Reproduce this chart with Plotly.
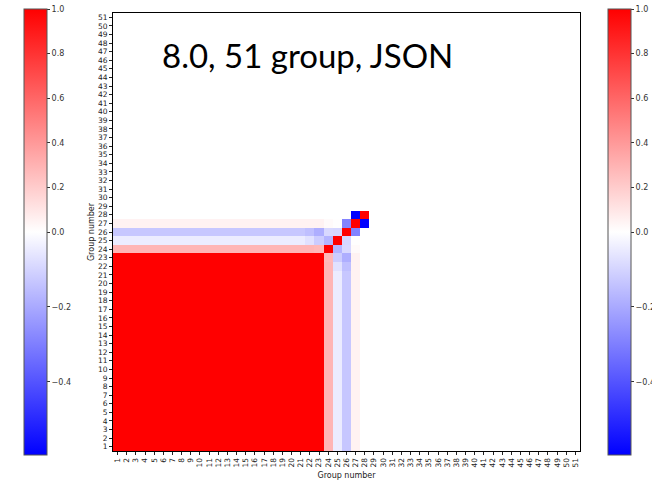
import numpy as np
import plotly.graph_objects as go

# ---- data -------------------------------------------------------------
group_numbers = list(range(1, 52))
group_labels = [str(g) for g in group_numbers]

# groups 1..23 are fully correlated with each other
core_size = 23
core_value = 1.0

# lower-triangle rows (columns 1..row) for groups 24..28
row_24 = [0.29] * 22 + [0.28, 1.0]
row_25 = [-0.045] * 21 + [-0.07, -0.12, -0.175, 1.0]
row_26 = [-0.13] * 21 + [-0.15, -0.19, -0.09, -0.095, 1.0]
row_27 = [0.05] * 23 + [0.02, 0.005, -0.29, 1.0]
row_28 = [0.0] * 26 + [-0.595, 1.0]
tail_rows = {24: row_24, 25: row_25, 26: row_26, 27: row_27, 28: row_28}

vmin, vcenter, vmax = -0.595, 0.0, 1.0
cbar_ticks = [1.0, 0.8, 0.6, 0.4, 0.2, 0.0, -0.2, -0.4]

# ---- build symmetric correlation matrix --------------------------------
n = len(group_numbers)
corr = np.zeros((n, n))
corr[:core_size, :core_size] = core_value
for r, vals in tail_rows.items():
    vals = np.asarray(vals)
    corr[r - 1, :r] = vals
    corr[:r, r - 1] = vals


def two_slope(v):
    """Map values to [0, 1] with the centre value at 0.5."""
    v = np.asarray(v, dtype=float)
    return np.where(v >= vcenter,
                    0.5 + 0.5 * (v - vcenter) / (vmax - vcenter),
                    0.5 - 0.5 * (vcenter - v) / (vcenter - vmin))


z_norm = two_slope(corr)
bwr = [[0.0, "rgb(0,0,255)"], [0.5, "rgb(255,255,255)"], [1.0, "rgb(255,0,0)"]]

tick_pos = two_slope(cbar_ticks).tolist()
tick_txt = [f"{t:.1f}".replace("-", "\u2212") for t in cbar_ticks]

W, H = 652, 480
M_L, M_R, M_T, M_B = 113, 72, 13, 29
plot_w = W - M_L - M_R
plot_h = H - M_T - M_B
cb_font = dict(family="DejaVu Sans", size=8, color="#333")


def colorbar(x_px, top_px=9, len_px=446):
    return dict(
        x=(x_px - M_L) / plot_w, xanchor="left",
        y=(H - M_B - top_px) / plot_h, yanchor="top",
        lenmode="pixels", len=len_px,
        thickness=23, xpad=0, ypad=0,
        outlinewidth=1, outlinecolor="#555",
        tickmode="array", tickvals=tick_pos, ticktext=tick_txt,
        ticks="outside", ticklen=3, tickcolor="#333",
        tickfont=cb_font,
    )


fig = go.Figure()
for cb_x in (24, 608):
    fig.add_trace(go.Heatmap(
        x=group_numbers, y=group_numbers, z=z_norm,
        customdata=corr,
        hovertemplate="x=%{x}<br>y=%{y}<br>value=%{customdata:.3f}<extra></extra>",
        colorscale=bwr, zmin=0, zmax=1,
        colorbar=colorbar(cb_x),
    ))

axis_common = dict(
    tickmode="array", tickvals=group_numbers, ticktext=group_labels,
    ticks="outside", ticklen=3, tickcolor="#222", tickwidth=1,
    tickfont=dict(family="DejaVu Sans", size=7.5, color="#222"),
    showline=True, linecolor="black", linewidth=1, mirror=True,
    showgrid=False, zeroline=False, range=[0.5, 51.5],
    automargin=False,
)
title_font = dict(family="DejaVu Sans", size=8, color="#222")

fig.update_layout(
    width=W, height=H,
    margin=dict(l=M_L, r=M_R, t=M_T, b=M_B, autoexpand=False),
    paper_bgcolor="white", plot_bgcolor="white",
    xaxis=dict(**axis_common, tickangle=-90,
               title=dict(text="Group number", standoff=6, font=title_font)),
    yaxis=dict(**axis_common,
               title=dict(text="Group number", standoff=2, font=title_font)),
    annotations=[dict(
        text="8.0, 51 group, JSON", xref="paper", yref="paper",
        x=0.1, y=0.905, xanchor="left", yanchor="middle", showarrow=False,
        font=dict(family="Lato", size=33, color="black"),
    )],
)

fig.write_html("out.html")
